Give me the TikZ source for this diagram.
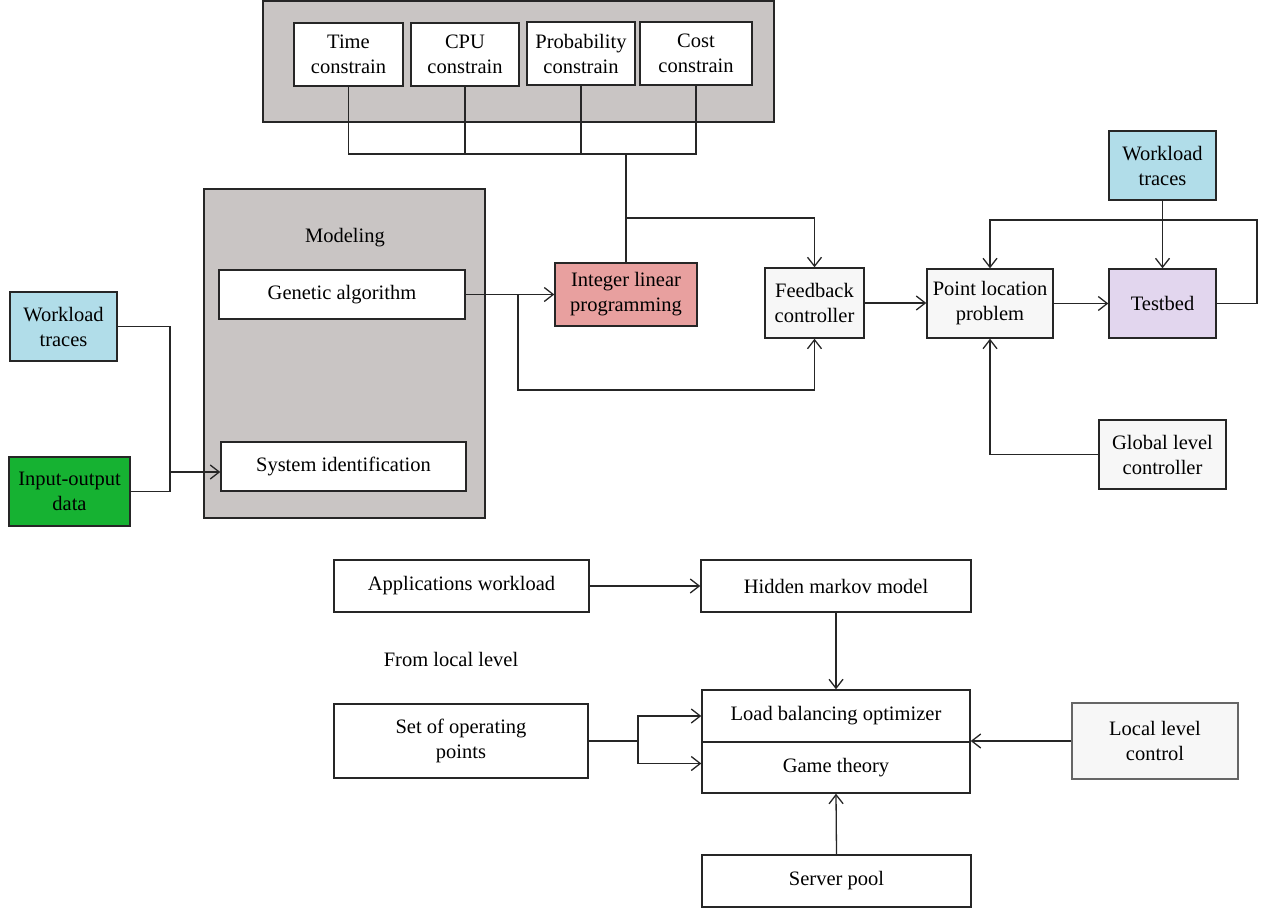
\documentclass[tikz,border=0pt]{standalone}
\usepackage{fontspec}
\setmainfont{Liberation Serif}
\usetikzlibrary{arrows.meta}
\definecolor{bggray}{RGB}{201,197,196}
\definecolor{lblue}{RGB}{177,221,233}
\definecolor{igreen}{RGB}{22,178,50}
\definecolor{ipink}{RGB}{232,160,159}
\definecolor{ilav}{RGB}{226,214,238}
\definecolor{offw}{RGB}{247,247,247}
\tikzset{
  box/.style={draw=black!85, line width=1.4pt, fill=white, inner sep=0pt, align=center,
    font=\fontsize{20.5}{25}\selectfont},
  panel/.style={draw=black!85, line width=1.4pt, fill=bggray, inner sep=0pt},
  conn/.style={line width=1.3pt, draw=black!85},
  arr/.style={conn, -{Straight Barb[length=9pt,width=14pt,line width=1.3pt]}},
}
\begin{document}
\begin{tikzpicture}[x=1pt,y=-1pt]
\useasboundingbox (0,0) rectangle (1265,909);
% panels
\node[panel, minimum width=511, minimum height=121] (topbg) at (518.5,61.5) {};
\node[panel, minimum width=281, minimum height=329] (modbg) at (344.5,353.5) {};
\node[font=\fontsize{20.5}{25}\selectfont] (modlbl) at (345,238) {Modeling};
% constraint boxes
\node[box, minimum width=109, minimum height=63] (time) at (348.5,54.5) {Time\\constrain};
\node[box, minimum width=108, minimum height=63] (cpu) at (465,54.5) {CPU\\constrain};
\node[box, minimum width=108, minimum height=63] (prob) at (581,53.5) {Probability\\constrain};
\node[box, minimum width=112, minimum height=63] (cost) at (696,53.5) {Cost\\constrain};
% middle
\node[box, fill=ipink, minimum width=142, minimum height=63] (ilp) at (626,294.5) {Integer linear\\programming};
\node[box, fill=offw, minimum width=99, minimum height=70] (fb) at (814.5,303) {Feedback\\controller};
\node[box, minimum width=246, minimum height=49] (ga) at (342,294.5) {Genetic algorithm};
\node[box, minimum width=245, minimum height=49] (sysid) at (343.5,466.5) {System identification};
\node[box, fill=lblue, minimum width=107, minimum height=69] (wl1) at (63.5,326.5) {Workload\\traces};
\node[box, fill=igreen, minimum width=121, minimum height=69] (io) at (69.5,491.5) {Input-output\\data};
% right
\node[box, fill=lblue, minimum width=107, minimum height=69] (wl2) at (1162.5,165.5) {Workload\\traces};
\node[box, fill=ilav, minimum width=107, minimum height=69] (tb) at (1162.5,303.5) {Testbed};
\node[box, fill=offw, minimum width=126, minimum height=69] (plp) at (990,303.5) {Point location\\problem};
\node[box, fill=offw, minimum width=127, minimum height=69] (glc) at (1162.5,454.5) {Global level\\controller};
% bottom
\node[box, minimum width=255, minimum height=52] (apps) at (461.5,586) {Applications workload};
\node[box, minimum width=270, minimum height=52] (hmm) at (836,586) {Hidden markov model};
\node[box, minimum width=268, minimum height=52] (lbo) at (836,716) {Load balancing optimizer};
\node[box, minimum width=268, minimum height=51] (game) at (836,767.5) {Game theory};
\node[box, minimum width=254, minimum height=74] (sop) at (461,741) {Set of operating\\points};
\node[box, minimum width=269, minimum height=52] (server) at (836.5,881) {Server pool};
\node[box, draw=black!60, fill=offw, minimum width=166, minimum height=76] (llc) at (1155,741) {Local level\\control};
\node[font=\fontsize{20.5}{25}\selectfont] (fromlocal) at (451,659) {From local level};
% coordinates
\coordinate (bus) at (626,154);
\coordinate (br1) at (626,218);
\coordinate (br2) at (518,294.5);
\coordinate (lowc) at (518,390);
\coordinate (j1) at (170,472);
\coordinate (loopR) at (1257,220);
\coordinate (sj) at (638,741);
% constraint bus
\draw[conn] (time.south) -- (time.south |- bus) -- (cpu.south |- bus);
\draw[conn] (cpu.south) -- (cpu.south |- bus);
\draw[conn] (prob.south) -- (prob.south |- bus);
\draw[conn] (cost.south) -- (cost.south |- bus) -- (bus);
\draw[conn, line width=2pt] (cpu.south |- bus) -- (bus) -- (ilp.north);
\draw[arr] (br1) -| (fb.north);
% genetic
\draw[arr] (ga.east) -- (ilp.west);
\draw[arr] (br2) -- (lowc) -| (fb.south);
% inputs
\draw[conn] (wl1.east) -| (io.east -| j1) -- (io.east);
\draw[arr] (j1) -- (j1 -| sysid.west);
% right
\draw[arr] (fb.east) -- (fb.east -| plp.west);
\draw[arr] (plp.east) -- (tb.west);
\draw[arr] (wl2.south) -- (tb.north);
\draw[arr] (tb.east) -| (loopR) -| (plp.north);
\draw[arr] (glc.west) -| (plp.south);
% bottom
\draw[arr] (apps.east) -- (hmm.west);
\draw[arr] (hmm.south) -- (lbo.north);
\draw[conn] (sop.east) -- (sj);
\draw[arr] (sj) |- (lbo.west);
\draw[arr] (sj) |- ([yshift=4pt]game.west);
\draw[arr] (server.north) -- (game.south);
\draw[arr] (llc.west) -- (llc.west -| lbo.east);
\end{tikzpicture}
\end{document}
